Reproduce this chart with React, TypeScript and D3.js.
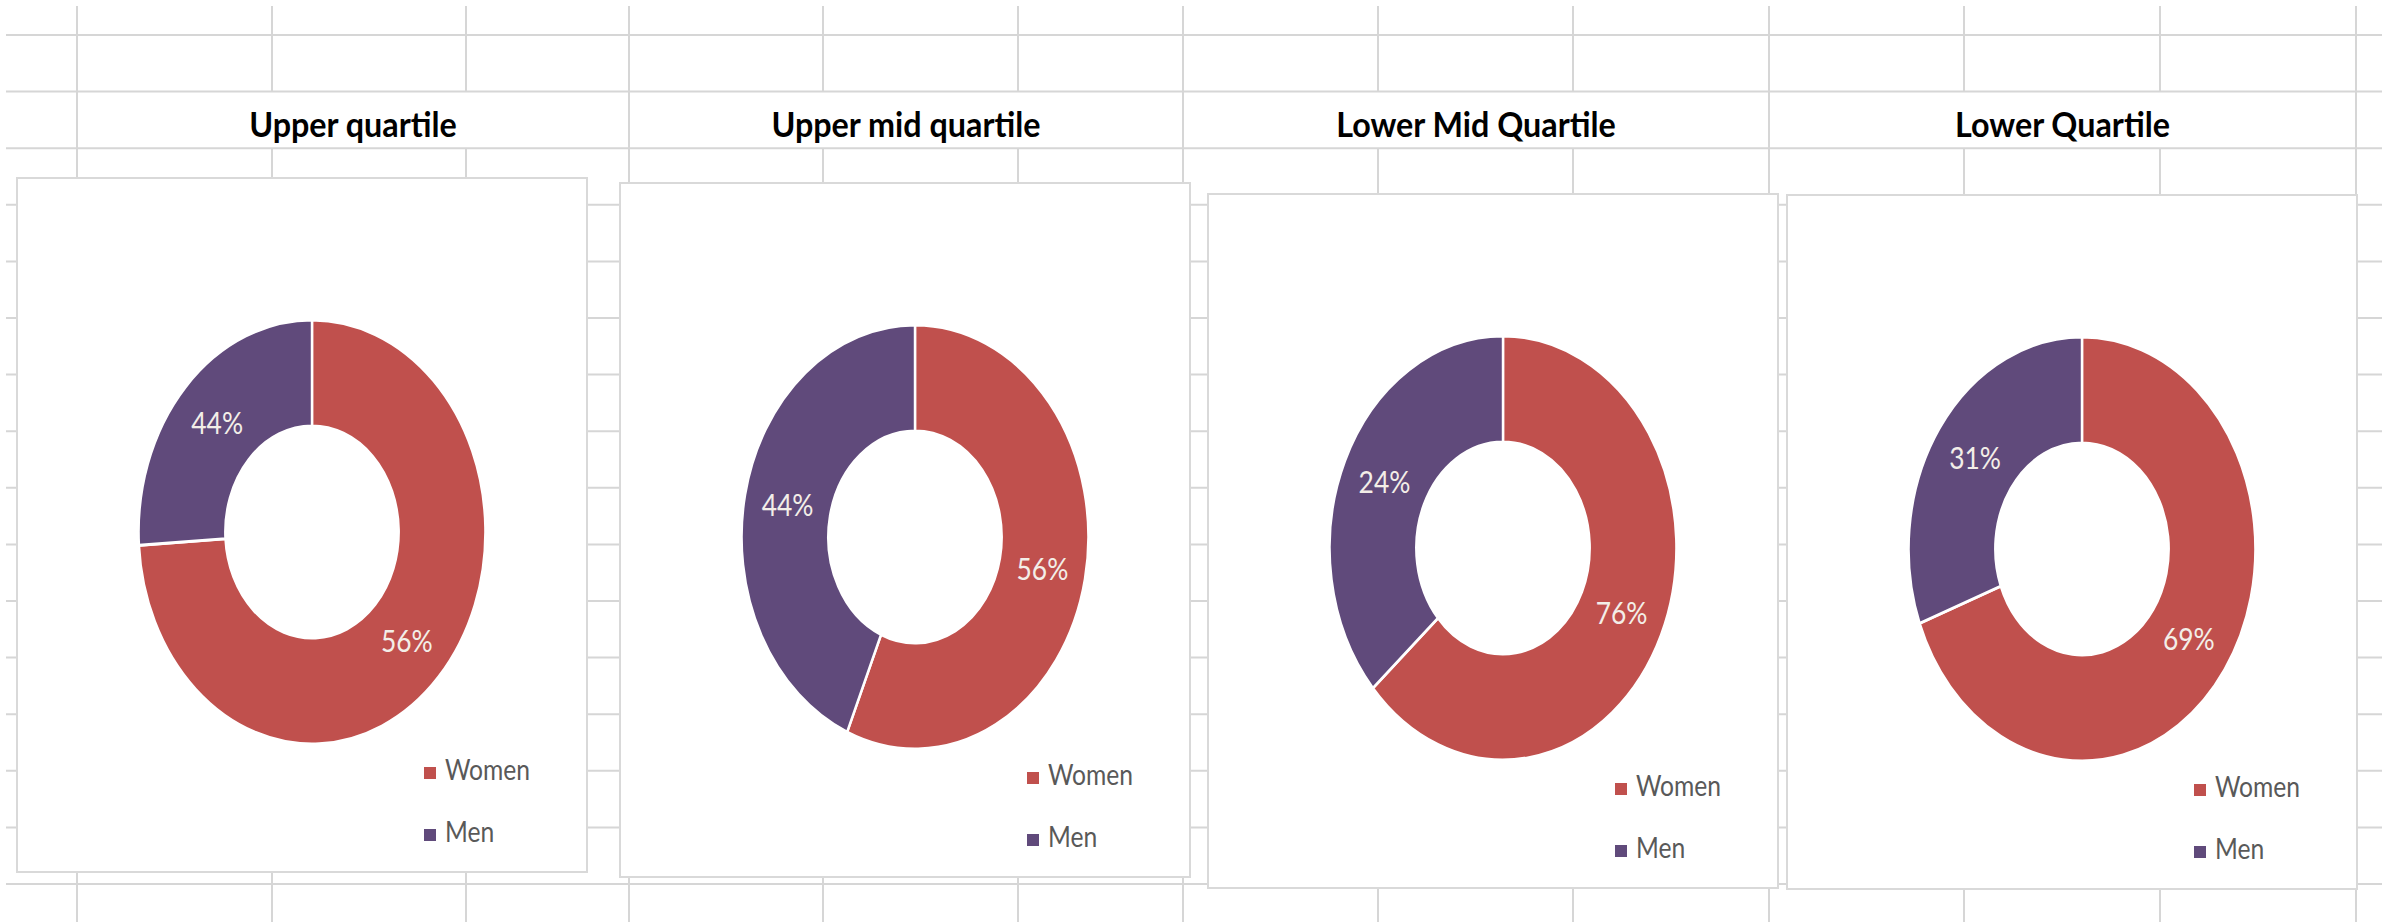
import React, { useEffect, useRef } from 'react'
import * as d3 from 'd3'

const titles = ['Upper quartile', 'Upper mid quartile', 'Lower Mid Quartile', 'Lower Quartile']
const seriesNames = ['Women', 'Men']
// slice sizes as they are drawn in the picture
const womenValues = [74, 56.4, 63.5, 69.3]
const menValues = [26, 43.6, 36.5, 30.7]
// data labels as printed on the slices
const womenLabels = ['56%', '56%', '76%', '69%']
const menLabels = ['44%', '44%', '24%', '31%']
const colors = ['#C0504D', '#604A7B']

// sheet layout (cell borders, chart boxes)
const boxLeft = [17, 620, 1208, 1787]
const boxTop = [178, 183, 194, 195]
const colLines = [77, 272, 466, 629, 823, 1018, 1183, 1378, 1573, 1769, 1964, 2160, 2356]
const mergeLines = [77, 629, 1183, 1769, 2356]

function App() {
  const ref = useRef<SVGSVGElement>(null)

  useEffect(() => {
    const W = 2382
    const H = 922
    const svg = d3.select(ref.current)
    svg.selectAll('*').remove()

    svg.append('rect').attr('width', W).attr('height', H).attr('fill', '#fff')

    // excel grid
    const rows = d3.range(16).map((i) => 35 + i * 56.6)
    const grid = svg.append('g').attr('stroke', '#d6d6d6').attr('stroke-width', 2)
    rows.forEach((y) => {
      grid.append('line').attr('x1', 6).attr('x2', W).attr('y1', y).attr('y2', y)
    })
    colLines.forEach((x) => {
      if (mergeLines.includes(x)) {
        grid.append('line').attr('x1', x).attr('x2', x).attr('y1', 6).attr('y2', H)
      } else {
        grid.append('line').attr('x1', x).attr('x2', x).attr('y1', 6).attr('y2', rows[1])
        grid.append('line').attr('x1', x).attr('x2', x).attr('y1', rows[2]).attr('y2', H)
      }
    })

    // titles in merged cells
    titles.forEach((t, i) => {
      const cx = (mergeLines[i] + mergeLines[i + 1]) / 2
      svg
        .append('text')
        .attr('transform', `translate(${cx}, 136.5) scale(0.95, 1)`)
        .attr('text-anchor', 'middle')
        .style('font-family', 'Lato, sans-serif')
        .style('font-weight', 700)
        .style('font-size', '34px')
        .attr('fill', '#000')
        .text(t)
    })

    const k = 0.818 // horizontal squash of the screenshot
    const R = 212
    const arc = d3.arc<d3.PieArcDatum<number>>().innerRadius(R * 0.5).outerRadius(R)
    const pie = d3.pie<number>().sort(null).value((d) => d)

    titles.forEach((t, i) => {
      const bx = boxLeft[i]
      const by = boxTop[i]
      const g = svg.append('g')

      g.append('rect')
        .attr('x', bx)
        .attr('y', by)
        .attr('width', 570)
        .attr('height', 694)
        .attr('fill', '#fff')
        .attr('stroke', '#d9d9d9')
        .attr('stroke-width', 2)

      const cx = bx + 295
      const cy = by + 354
      const slices = pie([womenValues[i], menValues[i]])
      const labels = [womenLabels[i], menLabels[i]]

      g.append('g')
        .attr('transform', `translate(${cx}, ${cy}) scale(${k}, 1)`)
        .selectAll('path')
        .data(slices)
        .enter()
        .append('path')
        .attr('d', arc)
        .attr('fill', (d, j) => colors[j])
        .attr('stroke', '#fff')
        .attr('stroke-width', 3)

      slices.forEach((d, j) => {
        const [x, y] = arc.centroid(d)
        g.append('text')
          .attr('transform', `translate(${cx + x * k}, ${cy + y}) scale(0.88, 1)`)
          .attr('text-anchor', 'middle')
          .attr('dy', '0.36em')
          .style('font-family', 'Lato, sans-serif')
          .style('font-size', '30px')
          .attr('fill', '#f3eee8')
          .text(labels[j])
      })

      // legend
      seriesNames.forEach((name, j) => {
        const base = by + 602 + j * 62
        g.append('rect')
          .attr('x', bx + 407)
          .attr('y', base - 13)
          .attr('width', 12)
          .attr('height', 12)
          .attr('fill', colors[j])
        g.append('text')
          .attr('transform', `translate(${bx + 428}, ${base}) scale(0.88, 1)`)
          .style('font-family', 'Lato, sans-serif')
          .style('font-size', '28px')
          .attr('fill', '#595959')
          .text(name)
      })
    })
  }, [])

  return (
    <svg
      ref={ref}
      width={2382}
      height={922}
      style={{ position: 'absolute', left: 0, top: 0, display: 'block' }}
    ></svg>
  )
}

export default App
